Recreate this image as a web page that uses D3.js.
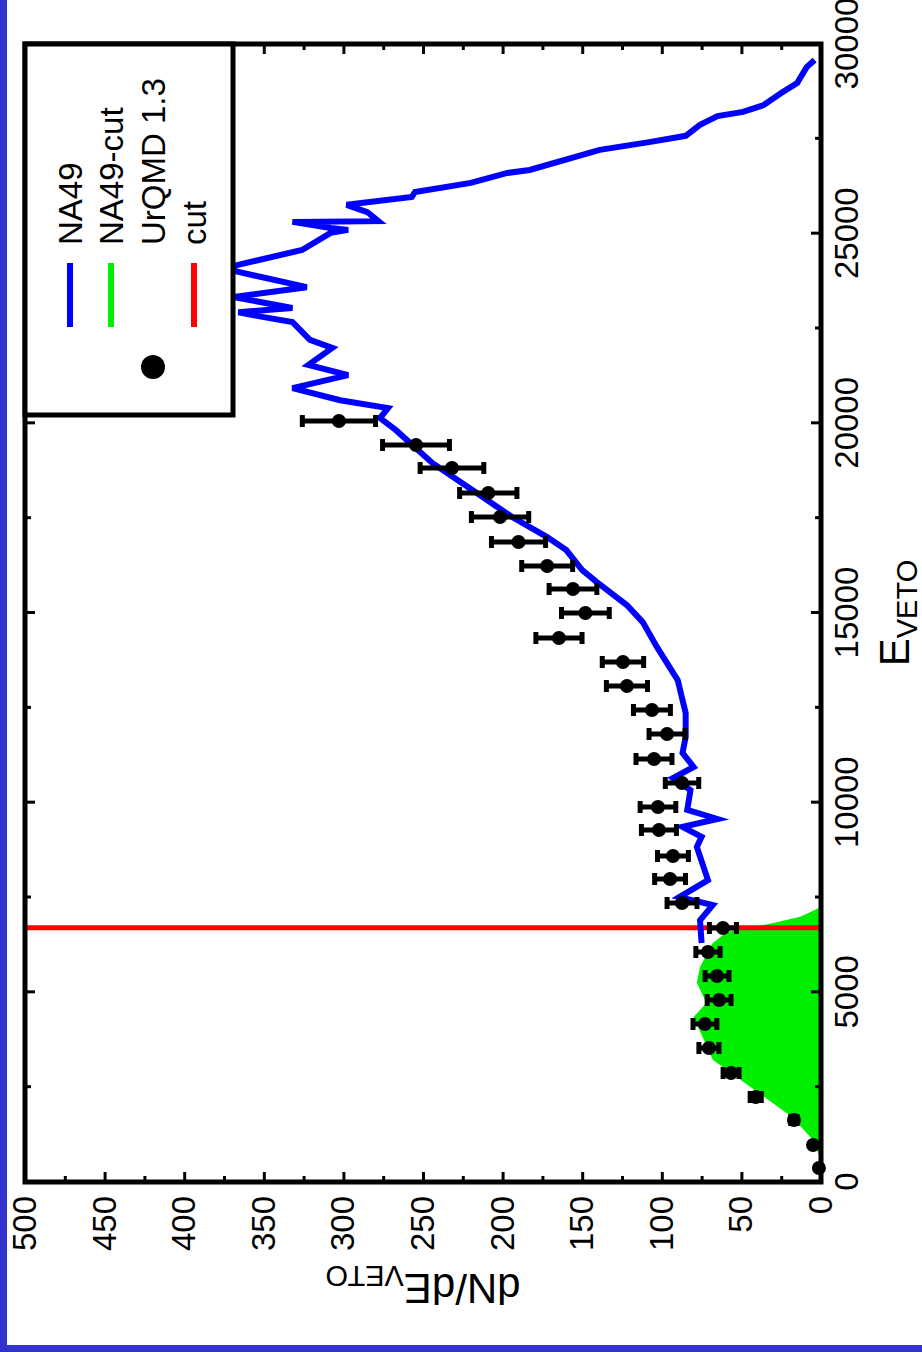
<!DOCTYPE html>
<html>
<head>
<meta charset="utf-8">
<script src="https://cdn.jsdelivr.net/npm/d3@7"></script>
<style>
  body { margin: 0; background: #fff; }
  svg { display: block; }
  text { font-family: "Liberation Sans", Arial, Helvetica, sans-serif; fill: #000; }
</style>
</head>
<body>
<svg id="chart" width="922" height="1352"></svg>
<script>
// ---- data -------------------------------------------------------------
// NA49 measured spectrum (E_VETO, dN/dE_VETO)
const na49E = [6300, 6900, 7300, 7510, 7960, 8830, 9100, 9360, 9570, 9810,
  10330, 10650, 10940, 11310, 11730, 12360, 13230, 14100, 14760, 15210,
  15530, 15820, 16130, 16660, 17000, 17530, 18240, 18950, 19820, 20140,
  20400, 20610, 20930, 21270, 21540, 21990, 22200, 22670, 22800, 22930,
  23040, 23330, 23590, 24040, 24170, 24570, 25020, 25100, 25150, 25310,
  25330, 25570, 25760, 25970, 26100, 26340, 26600, 26680, 27210, 27420,
  27580, 27870, 28100, 28210, 28390, 28710, 28970, 29390, 29580];
const na49V = [75, 76, 68, 89, 71, 78, 75, 87, 65, 84,
  82, 93, 80, 87, 85, 85, 90, 103, 112, 122,
  132, 141, 150, 160, 172, 194, 219, 244, 267, 277,
  272, 302, 332, 297, 322, 307, 321, 332, 350, 366,
  332, 369, 323, 371, 367, 326, 308, 297, 308, 332,
  278, 285, 298, 257, 255, 220, 197, 183, 139, 107,
  85, 76, 65, 49, 36, 25, 15, 9, 4];

// NA49 spectrum below the cut (filled)
const na49CutE = [580, 1110, 1710, 3220, 4350, 4720, 5250, 5670, 6300, 6590, 6830, 6990, 7250];
const na49CutV = [0, 5, 18, 68, 80, 72, 78, 76, 68, 59, 30, 13, 0];

// UrQMD 1.3 points with errors
const urqmdE = [369, 975, 1634, 2241, 2873, 3532, 4165, 4798, 5431, 6063,
  6696, 7355, 7988, 8594, 9280, 9886, 10518, 11151, 11810, 12443,
  13075, 13708, 14341, 15000, 15633, 16239, 16872, 17531, 18164, 18823,
  19429, 20062];
const urqmdV = [1.3, 5, 17, 41, 56.5, 70.4, 72.9, 64, 65.3, 71,
  61.6, 87.3, 94.8, 93, 101.8, 102.4, 87.3, 104.9, 96.7, 106.2,
  121.9, 124.4, 164.6, 148, 155.8, 172, 190, 201.6, 209, 231.8,
  254.4, 302.8];
const urqmdErr = [0.5, 1, 2, 3.5, 5, 6.3, 7.5, 7.5, 7.5, 7.6,
  8.5, 9.4, 9.7, 9.7, 11, 11.2, 10.5, 11.3, 11.3, 11.6,
  12.9, 13, 14.5, 15, 15, 16, 17, 18, 18, 20,
  21, 23];

// Cut position in E_VETO
const cutValue = 6700;

// Axis ticks
const xTicks = [0, 5000, 10000, 15000, 20000, 25000, 30000];
const xMinorTicks = [2500, 7500, 12500, 17500, 22500, 27500];
const yTicks = [0, 50, 100, 150, 200, 250, 300, 350, 400, 450, 500];
const yMinorTicks = [25, 75, 125, 175, 225, 275, 325, 375, 425, 475];

const legendLabels = ["NA49", "NA49-cut", "UrQMD 1.3", "cut"];
const legendColors = ["#0000ff", "#00ee00", "#000000", "#ff0000"];

// ---- layout -----------------------------------------------------------
const svg = d3.select("#chart");
const W = 1138, H = 796;          // plot extent in its own (unrotated) frame
const originX = 25, originY = 1182;

// page border strips
svg.append("rect").attr("x", 0).attr("y", 0).attr("width", 7).attr("height", 1352).attr("fill", "#3232cd");
svg.append("rect").attr("x", 0).attr("y", 1345).attr("width", 922).attr("height", 7).attr("fill", "#3232cd");

// the whole plot is laid on its side
const g = svg.append("g").attr("transform", `translate(${originX},${originY}) rotate(-90)`);

const x = d3.scaleLinear().domain([0, 30000]).range([0, W]);
const y = d3.scaleLinear().domain([0, 500]).range([H, 0]);

// NA49-cut filled area
const area = d3.area()
  .x(i => x(na49CutE[i]))
  .y0(y(0))
  .y1(i => y(na49CutV[i]));
g.append("path")
  .attr("d", area(d3.range(na49CutE.length)))
  .attr("fill", "#00ee00");

// cut line
g.append("line")
  .attr("x1", x(cutValue)).attr("x2", x(cutValue))
  .attr("y1", y(0)).attr("y2", y(500))
  .attr("stroke", "#ff0000").attr("stroke-width", 5);

// NA49 line
const line = d3.line()
  .x(i => x(na49E[i]))
  .y(i => y(na49V[i]));
g.append("path")
  .attr("d", line(d3.range(na49E.length)))
  .attr("fill", "none")
  .attr("stroke", "#0000ff")
  .attr("stroke-width", 6)
  .attr("stroke-linejoin", "miter");

// axes: ticks inward on all four sides
function styleAxis(sel) {
  sel.select(".domain").remove();
  sel.selectAll(".tick line").attr("stroke", "#000").attr("stroke-width", 3);
  sel.selectAll("text").attr("font-size", 33).attr("fill", "#000");
}
const fontFamily = '"Liberation Sans", Arial, sans-serif';

g.append("g").attr("transform", `translate(0,${H})`)
  .call(d3.axisBottom(x).tickValues(xTicks).tickSize(-10).tickPadding(14).tickFormat(d3.format("d")))
  .attr("font-family", fontFamily)
  .call(styleAxis);
g.append("g").attr("transform", `translate(0,${H})`)
  .call(d3.axisBottom(x).tickValues(xMinorTicks).tickSize(-6).tickFormat(""))
  .call(styleAxis);
g.append("g")
  .call(d3.axisTop(x).tickValues(xTicks).tickSize(-10).tickFormat(""))
  .call(styleAxis);
g.append("g")
  .call(d3.axisTop(x).tickValues(xMinorTicks).tickSize(-6).tickFormat(""))
  .call(styleAxis);

g.append("g")
  .call(d3.axisLeft(y).tickValues(yTicks).tickSize(-10).tickPadding(14).tickFormat(d3.format("d")))
  .attr("font-family", fontFamily)
  .call(styleAxis);
g.append("g")
  .call(d3.axisLeft(y).tickValues(yMinorTicks).tickSize(-6).tickFormat(""))
  .call(styleAxis);
g.append("g").attr("transform", `translate(${W},0)`)
  .call(d3.axisRight(y).tickValues(yTicks).tickSize(-10).tickFormat(""))
  .call(styleAxis);
g.append("g").attr("transform", `translate(${W},0)`)
  .call(d3.axisRight(y).tickValues(yMinorTicks).tickSize(-6).tickFormat(""))
  .call(styleAxis);

// frame
g.append("rect")
  .attr("x", 0).attr("y", 0).attr("width", W).attr("height", H)
  .attr("fill", "none").attr("stroke", "#000").attr("stroke-width", 5);

// UrQMD points with error bars
const pts = g.append("g");
const idx = d3.range(urqmdE.length);
const capHalf = 6;
pts.selectAll("line.err").data(idx).join("line")
  .attr("class", "err")
  .attr("x1", i => x(urqmdE[i])).attr("x2", i => x(urqmdE[i]))
  .attr("y1", i => y(urqmdV[i] - urqmdErr[i])).attr("y2", i => y(urqmdV[i] + urqmdErr[i]))
  .attr("stroke", "#000").attr("stroke-width", 5);
pts.selectAll("line.capLo").data(idx).join("line")
  .attr("class", "capLo")
  .attr("x1", i => x(urqmdE[i]) - capHalf).attr("x2", i => x(urqmdE[i]) + capHalf)
  .attr("y1", i => y(urqmdV[i] - urqmdErr[i])).attr("y2", i => y(urqmdV[i] - urqmdErr[i]))
  .attr("stroke", "#000").attr("stroke-width", 5);
pts.selectAll("line.capHi").data(idx).join("line")
  .attr("class", "capHi")
  .attr("x1", i => x(urqmdE[i]) - capHalf).attr("x2", i => x(urqmdE[i]) + capHalf)
  .attr("y1", i => y(urqmdV[i] + urqmdErr[i])).attr("y2", i => y(urqmdV[i] + urqmdErr[i]))
  .attr("stroke", "#000").attr("stroke-width", 5);
pts.selectAll("circle").data(idx).join("circle")
  .attr("cx", i => x(urqmdE[i])).attr("cy", i => y(urqmdV[i]))
  .attr("r", 7).attr("fill", "#000");

// axis titles
const xTitle = g.append("text")
  .attr("x", W / 2).attr("y", H + 88)
  .attr("text-anchor", "middle")
  .attr("font-size", 42);
xTitle.append("tspan").text("E");
xTitle.append("tspan").attr("font-size", 29).attr("dy", 8).text("VETO");

const yTitle = g.append("text")
  .attr("transform", `translate(-92,${H / 2}) rotate(-90)`)
  .attr("text-anchor", "middle")
  .attr("font-size", 42);
yTitle.append("tspan").text("dN/dE");
yTitle.append("tspan").attr("font-size", 29).attr("dy", 8).text("VETO");

// legend
const lg = g.append("g");
const legX0 = 767;
lg.append("rect")
  .attr("x", legX0).attr("y", 0).attr("width", W - legX0).attr("height", 208)
  .attr("fill", "#fff").attr("stroke", "#000").attr("stroke-width", 5);
const rowY = [45, 86, 128, 169];
legendLabels.forEach((lab, k) => {
  if (lab === "UrQMD 1.3") {
    lg.append("circle").attr("cx", 815).attr("cy", rowY[k]).attr("r", 12).attr("fill", legendColors[k]);
  } else {
    lg.append("line")
      .attr("x1", 855).attr("x2", 919)
      .attr("y1", rowY[k]).attr("y2", rowY[k])
      .attr("stroke", legendColors[k]).attr("stroke-width", 6);
  }
  lg.append("text")
    .attr("x", 937).attr("y", rowY[k]).attr("dy", "0.36em")
    .attr("font-size", 33)
    .text(lab);
});
</script>
</body>
</html>
